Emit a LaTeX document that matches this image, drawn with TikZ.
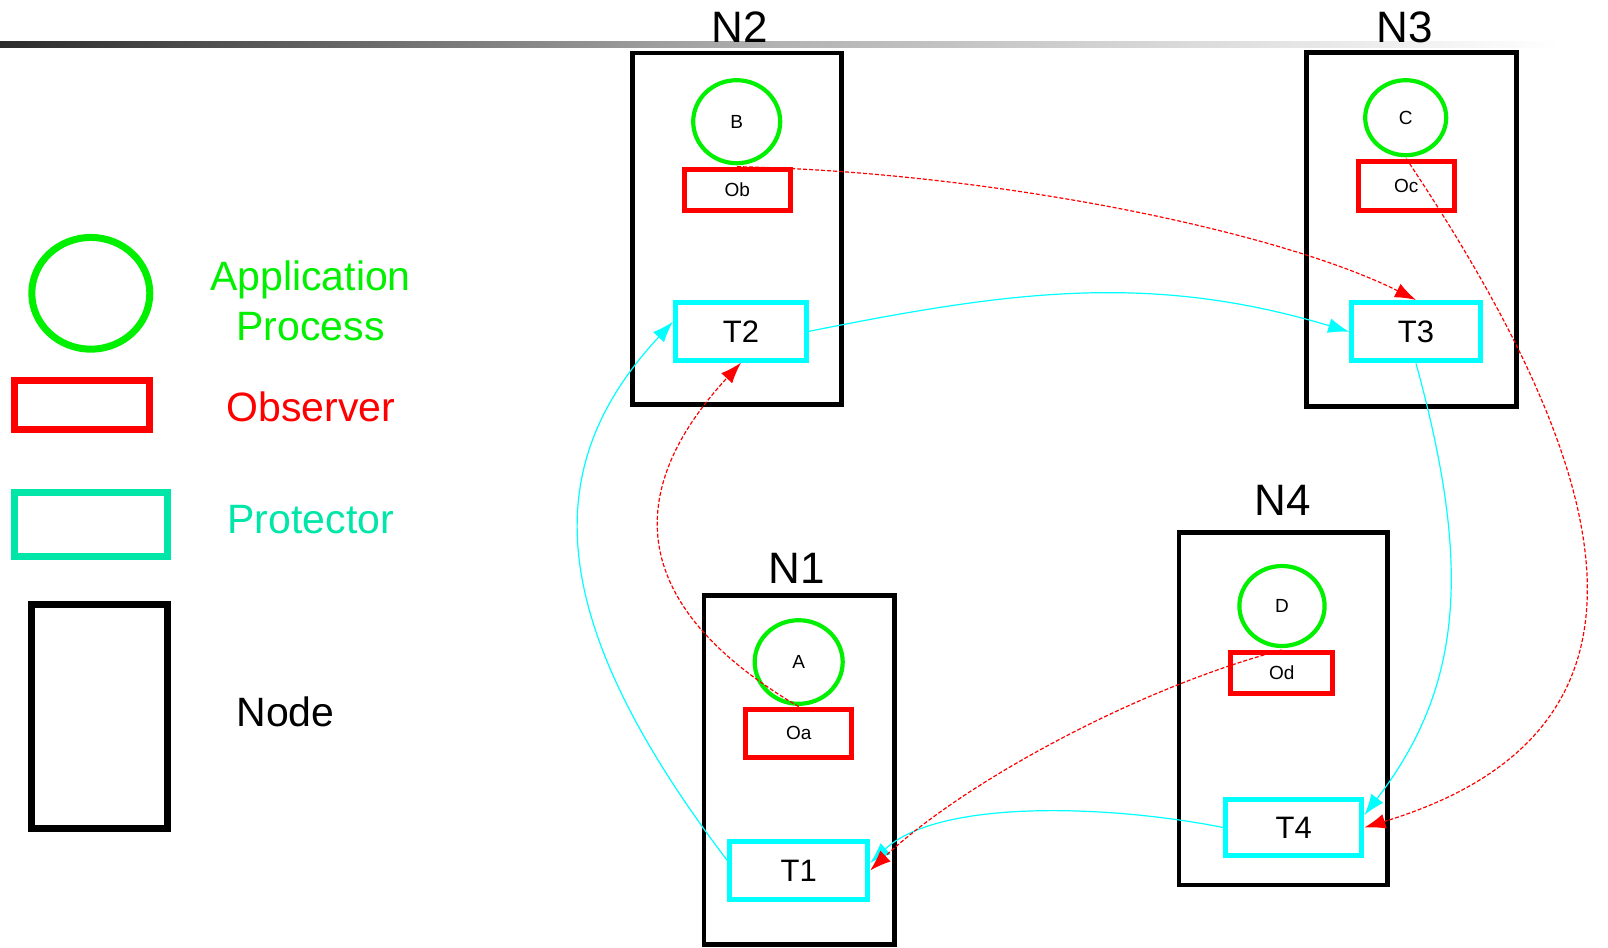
\documentclass[tikz,border=0pt]{standalone}
\usepackage{fontspec}
\setmainfont{Liberation Sans}
\usetikzlibrary{shapes.geometric,arrows.meta}
\definecolor{appgreen}{RGB}{0,240,0}
\definecolor{obsred}{RGB}{255,0,0}
\definecolor{protcyan}{RGB}{0,255,255}
\definecolor{protteal}{RGB}{0,230,168}
\begin{document}
\begin{tikzpicture}[x=0.5pt,y=-0.5pt,
    every node/.style={inner sep=0pt},
    proc/.style={ellipse,draw=appgreen,line width=2.1pt,font=\fontsize{9.5}{11}\selectfont},
    obs/.style={rectangle,draw=obsred,line width=2.5pt,font=\fontsize{9.5}{11}\selectfont},
    prot/.style={rectangle,draw=protcyan,line width=2.6pt,font=\fontsize{15.5}{18}\selectfont},
    nodebox/.style={rectangle,draw=black,line width=2.4pt},
    nodename/.style={anchor=base,font=\fontsize{22}{26}\selectfont},
    legend/.style={anchor=base,font=\fontsize{20.5}{25}\selectfont},
    link/.style={draw=protcyan,line width=0.6pt,-{Latex[length=10.5pt,width=7.5pt]}},
    watch/.style={draw=obsred,line width=0.6pt,dash pattern=on 2pt off 1pt,-{Latex[length=10.5pt,width=7.5pt]}}]
    \useasboundingbox (0,0) rectangle (1608,948);
    \shade [left color=black!83,right color=white,middle color=black!30] (0,41) rectangle (1560,47);

    \begin{scope}[line width=3.5pt]
    \node [proc,line width=3.5pt,minimum width=59pt,minimum height=55.85pt] (lgproc) at (90.8,293.3) {};
    \node [obs,line width=3.5pt,minimum width=67.8pt,minimum height=24.2pt] (lgobs) at (82,405) {};
    \node [rectangle,draw=protteal,line width=3.5pt,minimum width=76.5pt,minimum height=31.85pt] (lgprot) at (90.7,524.7) {};
    \node [nodebox,line width=3.5pt,minimum width=68pt,minimum height=112pt] (lgnode) at (99.2,716.2) {};
    \end{scope}
    \node [anchor=north,align=center,text=appgreen,font=\fontsize{20.5}{25}\selectfont] (lgproctext) at (310.5,260) {Application\\Process};
    \node [legend,text=obsred] (lgobstext) at (310.7,421) {Observer};
    \node [legend,text=protteal] (lgprottext) at (310.8,533) {Protector};
    \node [legend] (lgnodetext) at (285.5,726) {Node};

    \node [nodebox,minimum width=104.75pt,minimum height=175.75pt] (N2) at (737,228.7) {};
    \node [nodename] (N2name) at (740,42) {N2};
    \node [proc,minimum width=43.5pt,minimum height=41.5pt] (B) at (736.7,121.7) {B};
    \node [obs,minimum width=53pt,minimum height=20.8pt] (Ob) at (737.2,190) {Ob};
    \node [prot,minimum width=65.5pt,minimum height=28.85pt] (T2) at (741,331.3) {T2};

    \node [nodebox,minimum width=104.9pt,minimum height=176.9pt] (N3) at (1411.2,229.2) {};
    \node [nodename] (N3name) at (1405,42) {N3};
    \node [proc,minimum width=40.5pt,minimum height=37.5pt] (C) at (1405.7,117.7) {C};
    \node [obs,minimum width=47.85pt,minimum height=24.8pt] (Oc) at (1406.3,186) {Oc};
    \node [prot,minimum width=64.2pt,minimum height=29.15pt] (T3) at (1416,331.7) {T3};

    \node [nodebox,minimum width=95.25pt,minimum height=174.45pt] (N1) at (799.2,770) {};
    \node [nodename] (N1name) at (797,583) {N1};
    \node [proc,minimum width=44pt,minimum height=41.8pt] (A) at (798.7,662) {A};
    \node [obs,minimum width=52.85pt,minimum height=24.15pt] (Oa) at (798.7,733.3) {Oa};
    \node [prot,minimum width=68.85pt,minimum height=28.7pt] (T1) at (798.7,870.5) {T1};

    \node [nodebox,minimum width=104.4pt,minimum height=176.4pt] (N4) at (1283.35,708.65) {};
    \node [nodename] (N4name) at (1283,515) {N4};
    \node [proc,minimum width=42.6pt,minimum height=40pt] (D) at (1282,606) {D};
    \node [obs,minimum width=50.85pt,minimum height=20.5pt] (Od) at (1281.7,673) {Od};
    \node [prot,minimum width=68pt,minimum height=28.3pt] (T4) at (1293.8,827.5) {T4};

    \draw [watch] (Oa.north) .. controls +(-170,-100) and +(-120,130) .. (T2.south);
    \draw [link] (T1.172) .. controls +(-190,-250) and +(-130,140) .. (T2.172);
    \draw [link] (T2.east) .. controls +(200,-40) and +(-200,-60) .. (T3.west);
    \draw [watch] (Ob.north) .. controls +(250,5) and +(-140,-70) .. (T3.north);
    \draw [watch] (Oc.north) .. controls +(200,300) and +(330,-100) .. (T4.east);
    \draw [link] (T3.south) .. controls +(55,200) and +(100,-130) .. (T4.10);
    \draw [link] (T4.west) .. controls +(-110,-22) and +(70,-65) .. (T1.6);
    \draw [watch] (Od.north) .. controls +(-150,40) and +(90,-85) .. (T1.east);
\end{tikzpicture}
\end{document}
